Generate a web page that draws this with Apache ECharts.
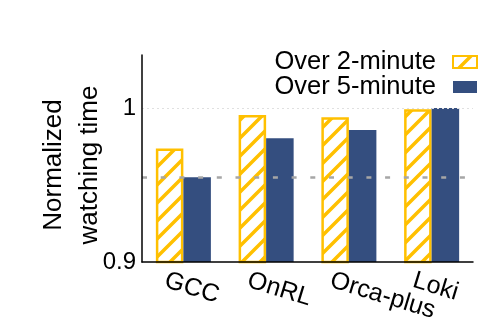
<!DOCTYPE html>
<html><head><meta charset="utf-8">
<script src="https://cdn.jsdelivr.net/npm/echarts@6/dist/echarts.min.js"></script>
<style>html,body{margin:0;padding:0;background:#fff}#c{width:502px;height:334px}</style>
</head><body><div id="c"></div>
<script>
const categories = ['GCC', 'OnRL', 'Orca-plus', 'Loki'];
const over2 = [0.9737, 0.9954, 0.994, 0.9992];
const over5 = [0.955, 0.9803, 0.9857, 1.0];
const seriesNames = ['Over 2-minute', 'Over 5-minute'];
const yTicks = [0.9, 1];
const refLine = 0.955;
const gridValue = 1;
const yMin = 0.9, yMax = 1.0344;
const yName = 'Normalized\nwatching time';

const FONT = "'Liberation Sans', Arial, Helvetica, sans-serif";
const YELLOW = '#FFC000';
const BLUE = '#344E7F';

function hatch() {
  const s = 18;
  const c = document.createElement('canvas');
  c.width = s; c.height = s;
  const g = c.getContext('2d');
  g.fillStyle = '#fff'; g.fillRect(0, 0, s, s);
  g.strokeStyle = YELLOW; g.lineWidth = 3.5;
  g.beginPath();
  g.moveTo(-s / 2, s / 2); g.lineTo(s / 2, -s / 2);
  g.moveTo(0, s); g.lineTo(s, 0);
  g.moveTo(s / 2, s * 1.5); g.lineTo(s * 1.5, s / 2);
  g.stroke();
  return c;
}

const chart = echarts.init(document.getElementById('c'), null, { renderer: 'canvas' });
chart.setOption({
  animation: false,
  grid: { left: 142, right: 29, top: 55, bottom: 72 },
  legend: {
    orient: 'vertical', right: 19, top: 44, align: 'right',
    itemWidth: 24, itemHeight: 12, itemGap: -1, icon: 'rect',
    textStyle: { fontFamily: FONT, fontSize: 25.5, color: '#000', padding: [0, 12, 0, 0] },
    data: seriesNames
  },
  xAxis: {
    type: 'category', data: categories, z: 5,
    axisLine: { lineStyle: { color: '#000', width: 1.5 } },
    axisTick: { show: false }, axisLabel: { show: false }
  },
  yAxis: {
    type: 'value', min: yMin, max: yMax, interval: 0.1, z: 5,
    axisLine: { show: true, lineStyle: { color: '#000', width: 1.5 } },
    axisTick: { show: false }, splitLine: { show: false },
    axisLabel: {
      fontFamily: FONT, fontSize: 24, color: '#000', margin: 6, showMaxLabel: false,
      formatter: v => { const t = yTicks.find(t => Math.abs(t - v) < 1e-6); return t === undefined ? '' : String(t); }
    }
  },
  series: [
    {
      type: 'bar', name: seriesNames[0], data: over2,
      barGap: '0%', barCategoryGap: '33.5%',
      itemStyle: { color: { image: hatch(), repeat: 'repeat' }, borderColor: YELLOW, borderWidth: 2.5 },
      markLine: {
        silent: true, symbol: 'none', label: { show: false }, precision: 6,
        lineStyle: { color: '#e0e0e0', width: 1, type: [2, 3] },
        data: [{ yAxis: gridValue }]
      }
    },
    {
      type: 'bar', name: seriesNames[1], data: over5,
      itemStyle: { color: BLUE },
      markLine: {
        silent: true, symbol: 'none', label: { show: false }, precision: 6,
        lineStyle: { color: '#a6a6a6', width: 2.5, type: [5, 13.7] },
        data: [{ yAxis: refLine }]
      }
    }
  ]
});

const axisY = chart.convertToPixel({ yAxisIndex: 0 }, yMin);
const topY = chart.convertToPixel({ yAxisIndex: 0 }, yMax);
const graphics = categories.map(c => {
  const x = chart.convertToPixel({ xAxisIndex: 0 }, c);
  return {
    type: 'text', x: x - 18, y: axisY + 18, rotation: -17 * Math.PI / 180,
    style: { text: c, fontFamily: FONT, fontSize: 25, fill: '#000', align: 'left', verticalAlign: 'middle' }
  };
});
graphics.push({
  type: 'text', x: 71.5, y: (axisY + topY) / 2 + 6.5, rotation: Math.PI / 2,
  style: { text: yName, fontFamily: FONT, fontSize: 26, fill: '#000', align: 'center', verticalAlign: 'middle', lineHeight: 36 }
});
chart.setOption({ graphic: graphics });
</script>
</body></html>
